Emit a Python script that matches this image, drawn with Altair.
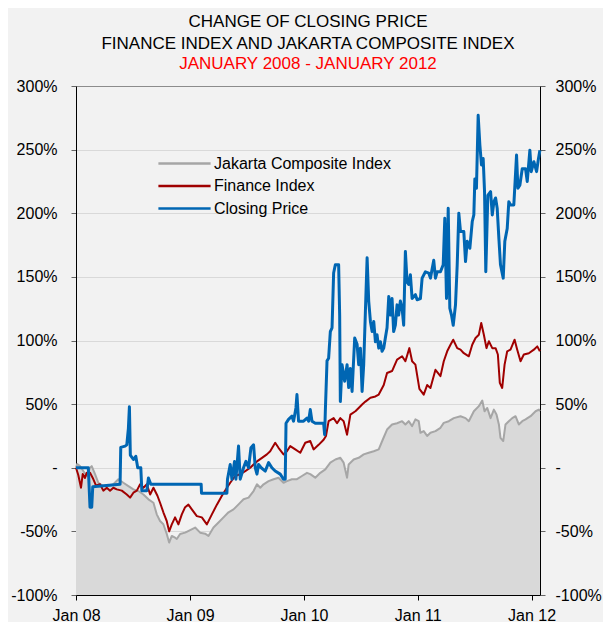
import altair as alt
import pandas as pd

# ---------------- data (decimal years, % change) ----------------
series_names = ["Jakarta Composite Index", "Finance Index", "Closing Price"]
series_colors = ["#a6a6a6", "#a00000", "#0066b3"]

cp_years = [2008.000, 2008.108, 2008.123, 2008.138, 2008.147, 2008.387, 2008.393, 2008.431, 2008.446, 2008.460,
            2008.469, 2008.477, 2008.504, 2008.525, 2008.542, 2008.569, 2008.578, 2008.622, 2008.636, 2008.657,
            2009.099, 2009.102, 2009.325, 2009.330, 2009.354, 2009.369, 2009.392, 2009.404, 2009.427, 2009.442,
            2009.471, 2009.492, 2009.515, 2009.536, 2009.559, 2009.574, 2009.589, 2009.603, 2009.626, 2009.662,
            2009.691, 2009.720, 2009.749, 2009.793, 2009.822, 2009.837, 2009.844, 2009.866, 2009.896, 2009.910,
            2009.931, 2009.940, 2009.954, 2009.998,
            2010.028, 2010.042, 2010.057, 2010.072, 2010.101, 2010.174, 2010.183, 2010.189, 2010.204, 2010.218,
            2010.233, 2010.248, 2010.262, 2010.277, 2010.306, 2010.315, 2010.321, 2010.336, 2010.359, 2010.380,
            2010.394, 2010.409, 2010.424, 2010.447, 2010.468, 2010.482, 2010.497, 2010.512, 2010.526, 2010.541,
            2010.556, 2010.570, 2010.585, 2010.600, 2010.614, 2010.629, 2010.643, 2010.658, 2010.673, 2010.687,
            2010.702, 2010.716, 2010.731, 2010.746, 2010.760, 2010.775, 2010.789, 2010.804, 2010.819, 2010.833,
            2010.848, 2010.863, 2010.877, 2010.892, 2010.907, 2010.921, 2010.936, 2010.951, 2010.980, 2010.995,
            2011.024, 2011.039, 2011.068, 2011.097, 2011.112, 2011.141, 2011.156, 2011.171, 2011.200, 2011.224,
            2011.238, 2011.253, 2011.268, 2011.282, 2011.297, 2011.312, 2011.332, 2011.347, 2011.361, 2011.376,
            2011.405, 2011.420, 2011.435, 2011.458, 2011.479, 2011.493, 2011.502, 2011.516, 2011.531, 2011.546,
            2011.560, 2011.575, 2011.587, 2011.598, 2011.616, 2011.640, 2011.655, 2011.669, 2011.684, 2011.698,
            2011.713, 2011.727, 2011.751, 2011.765, 2011.786, 2011.800, 2011.815, 2011.844, 2011.868, 2011.880,
            2011.897, 2011.918, 2011.947, 2011.962, 2011.985, 2011.997,
            2012.020, 2012.044, 2012.059, 2012.073]
cp_vals = [0, 0, -31, -31, -15, -13, 16, 17, 18, 31,
           48, 10, 6.5, 9, 0, 0, -18, -18, -8, -13,
           -13, -20, -20, -9, 2.6, -9, 5, -9, 17, -9,
           0, 5, 0, 15.7, 18, 0, -5, 2.6, 0, -2.6,
           4, 0, -2.6, -5, -9, -9, 35, 38, 40.5, 36.6,
           47, 57.5, 36.6, 36.6,
           39, 36.6, 45.7, 36.6, 35, 35, 26, 44, 84, 86,
           107, 110, 153, 159.5, 159.5, 120, 52, 81, 68, 81,
           63, 78, 60, 102, 97, 81, 94, 60, 81, 123,
           165, 131, 115, 107, 115, 99, 104.5, 94, 99, 91.5,
           94, 102, 110, 134.6, 120, 133, 107, 112, 128, 120,
           131, 125.5, 112, 170, 146, 144, 151.6, 133, 136, 132,
           133, 149, 154, 153, 149, 163, 149, 154, 154, 159.5,
           196, 133, 204, 125.5, 120, 112, 128, 159.5, 200, 185.6,
           185.6, 162, 178, 172.5, 193.5, 198.7, 227, 219.6, 277, 253.6,
           238, 243, 217, 154, 214, 217, 198.7, 209, 212, 204,
           180, 159.5, 149, 178, 188, 209, 206.5, 206.5, 245.7, 219.6,
           222, 235, 235, 225, 249.6, 232.7,
           240.5, 232.7, 242, 249.6]

fin_years = [2008.000, 2008.020, 2008.044, 2008.059, 2008.079, 2008.094, 2008.123, 2008.147, 2008.176, 2008.211,
             2008.240, 2008.270, 2008.299, 2008.328, 2008.358, 2008.402, 2008.446, 2008.475, 2008.504, 2008.534,
             2008.563, 2008.592, 2008.622, 2008.651, 2008.680, 2008.715, 2008.738, 2008.767, 2008.797, 2008.818,
             2008.841, 2008.870, 2008.899, 2008.929, 2008.958, 2008.987,
             2009.017, 2009.061, 2009.105, 2009.149, 2009.193, 2009.237, 2009.281, 2009.325, 2009.354, 2009.398,
             2009.442, 2009.486, 2009.530, 2009.559, 2009.589, 2009.633, 2009.676, 2009.705, 2009.749, 2009.778,
             2009.822, 2009.852, 2009.881, 2009.925, 2009.969,
             2010.013, 2010.057, 2010.086, 2010.130, 2010.174, 2010.195, 2010.218, 2010.262, 2010.292, 2010.321,
             2010.350, 2010.380, 2010.409, 2010.453, 2010.482, 2010.512, 2010.541, 2010.585, 2010.629, 2010.658,
             2010.702, 2010.731, 2010.775, 2010.819, 2010.863, 2010.892, 2010.927, 2010.951, 2010.980,
             2011.015, 2011.053, 2011.083, 2011.112, 2011.156, 2011.200, 2011.229, 2011.259, 2011.288, 2011.312,
             2011.347, 2011.376, 2011.405, 2011.449, 2011.479, 2011.508, 2011.537, 2011.558, 2011.581, 2011.604,
             2011.625, 2011.655, 2011.684, 2011.704, 2011.721, 2011.742, 2011.763, 2011.786, 2011.815, 2011.851,
             2011.874, 2011.903, 2011.932, 2011.976,
             2012.020, 2012.050, 2012.073]
fin_vals = [0, -5.7, -15.7, -5, -8, -4, -4, -8, -14, -13,
            -18, -15.7, -18, -15.7, -17, -18, -21, -23.5, -19.6, -18,
            -13, -15.7, -13, -21, -15.7, -22, -27.5, -35, -42, -50,
            -44.5, -39, -44.5, -36.6, -31, -29,
            -32.7, -38, -39, -44.5, -36.6, -29, -22, -15.7, -11.8, -6.5,
            -5, -2.6, 0, 2.6, 5, 7.8, 10.5, 13, 19.6, 15.7,
            10.5, 13, 17, 14.4, 11.8,
            19.6, 21, 14.4, 18, 22, 25, 36.6, 39, 35, 39,
            36.6, 26, 41.8, 44.4, 47, 49.7, 52, 55, 56, 57.5,
            65, 74.5, 76, 85, 87.6, 83.7, 94, 83.7, 81,
            62, 57.5, 65, 62.7, 77, 72, 83.7, 91.5, 96.7, 100.6,
            94, 92.8, 90, 87.6, 96.7, 102, 104.5, 113.7, 104.5, 94,
            99.4, 94, 94, 89, 66.7, 62.7, 81, 91.5, 92.8, 100.6,
            92.8, 83.7, 89, 90,
            92.8, 95.4, 91.5]

jci_years = [2008.000, 2008.011, 2008.035, 2008.064, 2008.094, 2008.123, 2008.138, 2008.167, 2008.196, 2008.240,
             2008.284, 2008.328, 2008.372, 2008.416, 2008.460, 2008.504, 2008.548, 2008.592, 2008.636, 2008.680,
             2008.709, 2008.738, 2008.767, 2008.797, 2008.818, 2008.841, 2008.870, 2008.885, 2008.914, 2008.958,
             2009.002, 2009.046, 2009.090, 2009.134, 2009.163, 2009.207, 2009.251, 2009.295, 2009.339, 2009.383,
             2009.427, 2009.471, 2009.515, 2009.559, 2009.589, 2009.618, 2009.647, 2009.691, 2009.735, 2009.778,
             2009.822, 2009.852, 2009.896, 2009.940, 2009.984,
             2010.028, 2010.057, 2010.101, 2010.145, 2010.189, 2010.233, 2010.277, 2010.321, 2010.350, 2010.380,
             2010.394, 2010.438, 2010.482, 2010.526, 2010.570, 2010.614, 2010.658, 2010.693, 2010.731, 2010.775,
             2010.819, 2010.863, 2010.892, 2010.921, 2010.951, 2010.980,
             2011.009, 2011.024, 2011.053, 2011.083, 2011.112, 2011.156, 2011.200, 2011.229, 2011.273, 2011.317,
             2011.376, 2011.420, 2011.449, 2011.493, 2011.537, 2011.567, 2011.587, 2011.611, 2011.640, 2011.669,
             2011.692, 2011.713, 2011.727, 2011.751, 2011.771, 2011.800, 2011.830, 2011.859, 2011.888, 2011.918,
             2011.947, 2011.991,
             2012.035, 2012.064, 2012.073]
jci_vals = [0, 3, 1.3, -2.6, -6.5, 0, 1.3, -5, -11.8, -14.4,
            -14.4, -13, -9, -11.8, -14.4, -17, -18.3, -21, -24.8, -27.5,
            -36.6, -41.8, -44.4, -52, -58.8, -53.6, -55, -56, -52, -51,
            -49, -47, -51, -51.8, -53.6, -47, -43, -39, -35, -32.7,
            -28.8, -24.8, -23.5, -18.3, -13, -15.7, -13, -10.5, -9, -7.8,
            -11.8, -10.5, -9, -9, -6.5,
            -4, -5, -7.8, -4, -1.3, 4, 6.5, 7.8, 4, -7.8,
            2.6, 6.5, 7.8, 10.5, 11.8, 13, 14.4, 22, 30, 34,
            35, 36.6, 34, 36.6, 32.7, 38,
            36.6, 27.5, 28.8, 25, 27.5, 28.8, 31.4, 35.3, 36.6, 39,
            40.5, 39, 36.6, 44.4, 48.4, 52.8, 44.4, 47, 39, 45.7,
            41.8, 34, 23.5, 21, 34, 36.6, 39, 40.5, 34, 36.6,
            38, 40.5,
            44.4, 45.7, 44.4]

y_ticks = [-100, -50, 0, 50, 100, 150, 200, 250, 300]
x_tick_years = [2008, 2009, 2010, 2011, 2012]


def to_dates(years):
    base = pd.Timestamp("2008-01-01")
    return [base + pd.Timedelta(days=(y - 2008) * 365.25) for y in years]


frames = []
for name, ys, vs in [(series_names[0], jci_years, jci_vals),
                     (series_names[1], fin_years, fin_vals),
                     (series_names[2], cp_years, cp_vals)]:
    frames.append(pd.DataFrame({"date": to_dates(ys), "value": vs, "series": name}))
df = pd.concat(frames, ignore_index=True)

FONT = "Liberation Sans"
AXIS_FS = 16

x_enc = alt.X(
    "date:T",
    scale=alt.Scale(domain=[alt.DateTime(year=2008, month=1, date=1),
                            alt.DateTime(year=2012, month=1, date=28)]),
    axis=alt.Axis(values=[alt.DateTime(year=y, month=1, date=1) for y in x_tick_years],
                  format="%b %y", title=None, grid=False, labelFontSize=AXIS_FS, labelFont=FONT,
                  labelColor="black", tickSize=5, tickColor="black", domainColor="black",
                  labelPadding=7, labelFlush=False, labelOverlap=False),
)

y_scale = alt.Scale(domain=[-100, 300], nice=False, zero=False)
label_expr = "datum.value == 0 ? '-' : datum.value + '%'"

area = alt.Chart(df).transform_filter(
    alt.datum.series == series_names[0]
).mark_area(color="#d9d9d9", interpolate="linear").encode(
    x=x_enc,
    y=alt.Y("value:Q", scale=y_scale,
            axis=alt.Axis(orient="left", values=y_ticks, labelExpr=label_expr, title=None,
                          grid=True,
                          gridColor={"condition": {"test": "datum.value === 300", "value": "#8c8c8c"},
                                     "value": "#d9d9d9"},
                          labelFontSize=AXIS_FS, labelFont=FONT, labelColor="black",
                          tickSize=5, tickColor="#666666", domainColor="black",
                          labelPadding=14)),
    y2=alt.datum(-100),
)

color_enc = alt.Color(
    "series:N",
    scale=alt.Scale(domain=series_names, range=series_colors),
    legend=alt.Legend(title=None, orient="none", legendX=98, legendY=67, direction="vertical",
                      symbolType="M-2.9,0H2.9", symbolSize=324, symbolStrokeWidth=2.5,
                      labelFontSize=16, labelFont=FONT, labelColor="black", labelLimit=0,
                      labelOffset=19, rowPadding=3.5, padding=0),
)

y_right = alt.Y("value:Q", scale=y_scale,
                axis=alt.Axis(orient="right", values=y_ticks, labelExpr=label_expr, title=None,
                              grid=False, labelFontSize=AXIS_FS, labelFont=FONT, labelColor="black",
                              tickSize=5, tickColor="#666666", domainColor="black",
                              labelPadding=10))

widths = [2, 2, 3]
line_layers = []
for i, name in enumerate(series_names):
    line_layers.append(
        alt.Chart(df).transform_filter(alt.datum.series == name)
        .mark_line(strokeWidth=widths[i], interpolate="linear", strokeJoin="round")
        .encode(x=x_enc, y=y_right if i == 0 else alt.Y("value:Q", scale=y_scale), color=color_enc)
    )
lines = alt.layer(*line_layers)

chart = alt.layer(area, lines).resolve_scale(y="independent").properties(
    width=464,
    height=509,
    autosize=alt.AutoSizeParams(type="none"),
    padding={"left": 68, "top": 78, "right": 63, "bottom": 27},
    background="#f2f2f2",
    title=alt.TitleParams(
        text=["CHANGE OF CLOSING PRICE", "FINANCE INDEX AND JAKARTA COMPOSITE INDEX"],
        subtitle="JANUARY 2008 - JANUARY 2012",
        fontSize=17, font=FONT, fontWeight="normal", color="black",
        subtitleFontSize=17, subtitleFont=FONT, subtitleColor="#ff0000",
        lineHeight=22, subtitleLineHeight=21, subtitlePadding=3,
        offset=5, anchor="middle",
    ),
).configure_view(stroke=None, fill="#f2f2f2")

chart.save("out.html", embed_options={"renderer": "svg", "actions": False})
